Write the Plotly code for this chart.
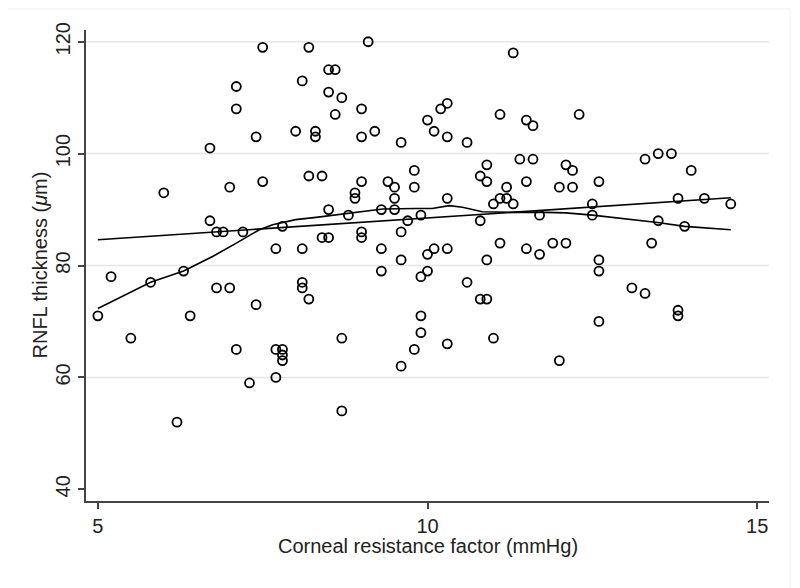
import plotly.graph_objects as go

# Scatter data: corneal resistance factor (mmHg) vs RNFL thickness (um)
crf = [7.5, 8.2, 7.1, 8.1, 7.1, 7.4, 8.0, 8.3, 8.3, 6.7, 8.2, 6.0, 7.0, 7.5, 6.7, 6.8, 6.9, 7.2, 7.8, 7.7, 8.1,
       5.2, 5.8, 6.3, 5.0, 5.5, 6.4, 6.8, 7.0, 7.4, 8.1, 8.1, 8.2, 7.1, 7.7, 7.8, 7.8, 7.8, 7.7, 7.3, 6.2,
       9.1, 11.3, 8.5, 8.6, 8.5, 8.7, 8.6, 9.0, 9.2, 9.0, 9.6, 10.0, 10.2, 10.3, 10.1, 10.3, 10.6, 11.1, 11.5, 11.6,
       11.4, 11.6, 10.9, 10.8, 10.9, 11.2, 11.5, 8.4, 9.0, 8.9, 8.9, 9.4, 9.5, 9.5, 9.8, 9.8, 10.3,
       8.5, 8.8, 9.3, 9.5, 9.7, 9.9, 10.8, 11.0, 11.1, 11.2, 11.3, 11.7,
       8.4, 8.5, 9.0, 9.0, 9.6, 9.3, 9.6, 10.0, 10.1, 10.3, 10.9, 11.1, 11.5, 11.7,
       9.3, 9.9, 10.0, 10.6, 10.8, 10.9, 9.9, 9.9, 8.7, 10.3, 11.0, 9.8, 9.6, 8.7,
       12.3, 12.1, 12.2, 12.0, 12.2, 12.6, 12.5, 12.5, 13.3, 13.5, 13.7, 14.0, 13.8, 14.2, 14.6, 13.5, 13.9,
       11.9, 12.1, 13.4, 12.6, 12.6, 13.1, 13.3, 13.8, 13.8, 12.6, 12.0]
rnfl = [119, 119, 112, 113, 108, 103, 104, 104, 103, 101, 96, 93, 94, 95, 88, 86, 86, 86, 87, 83, 83,
        78, 77, 79, 71, 67, 71, 76, 76, 73, 77, 76, 74, 65, 65, 65, 64, 63, 60, 59, 52,
        120, 118, 115, 115, 111, 110, 107, 108, 104, 103, 102, 106, 108, 109, 104, 103, 102, 107, 106, 105,
        99, 99, 98, 96, 95, 94, 95, 96, 95, 93, 92, 95, 94, 92, 97, 94, 92,
        90, 89, 90, 90, 88, 89, 88, 91, 92, 92, 91, 89,
        85, 85, 86, 85, 86, 83, 81, 82, 83, 83, 81, 84, 83, 82,
        79, 78, 79, 77, 74, 74, 71, 68, 67, 66, 67, 65, 62, 54,
        107, 98, 97, 94, 94, 95, 91, 89, 99, 100, 100, 97, 92, 92, 91, 88, 87,
        84, 84, 84, 81, 79, 76, 75, 72, 71, 70, 63]

# Linear fit line (endpoints)
lin_x = [5.0, 14.6]
lin_y = [84.6, 92.1]

# Lowess curve
low_x = [5.0, 5.8, 6.3, 6.74, 7.1, 7.45, 7.65, 8.0, 8.31, 8.81, 9.32, 9.82, 10.07, 10.33, 10.53, 10.83,
         11.08, 11.33, 11.79, 12.1, 12.5, 12.8, 13.1, 13.49, 13.9, 14.2, 14.6]
low_y = [72.3, 77.0, 79.0, 81.6, 84.0, 86.4, 87.3, 88.2, 88.6, 89.4, 90.1, 90.2, 90.2, 90.7, 90.4, 89.6,
         89.5, 89.5, 89.5, 89.4, 89.0, 88.6, 88.3, 87.7, 87.0, 86.7, 86.4]

x_ticks = [5, 10, 15]
y_ticks = [40, 60, 80, 100, 120]
x_title = "Corneal resistance factor (mmHg)"
y_title = "RNFL thickness (<i>μ</i>m)"

fig = go.Figure()
fig.add_trace(go.Scatter(
    x=crf, y=rnfl, mode="markers",
    marker=dict(symbol="circle-open", size=9, color="black", line=dict(width=1.8, color="black")),
    showlegend=False, hoverinfo="x+y"))
fig.add_trace(go.Scatter(x=lin_x, y=lin_y, mode="lines",
                         line=dict(color="black", width=1.6), showlegend=False))
fig.add_trace(go.Scatter(x=low_x, y=low_y, mode="lines",
                         line=dict(color="black", width=1.6), showlegend=False))

font_family = "Liberation Sans, Arial, Helvetica, sans-serif"
fig.update_layout(
    width=800, height=588,
    margin=dict(l=78, r=39, t=22, b=95),
    paper_bgcolor="white", plot_bgcolor="white",
    font=dict(family=font_family, size=20, color="#222222"),
    xaxis=dict(
        range=[4.82, 15.18], tickvals=x_ticks, ticktext=[str(v) for v in x_ticks],
        showgrid=False, zeroline=False, automargin=False,
        showline=True, linecolor="#444444", linewidth=1.5,
        ticks="outside", ticklen=6, tickwidth=1.5, tickcolor="#444444",
        tickfont=dict(size=20),
    ),
    yaxis=dict(
        range=[37.9, 122.1], tickvals=y_ticks, ticktext=[str(v) for v in y_ticks],
        tickangle=-90,
        showgrid=False, zeroline=False, automargin=False,
        showline=True, linecolor="#444444", linewidth=1.5,
        ticks="outside", ticklen=6, tickwidth=1.5, tickcolor="#444444",
        tickfont=dict(size=20),
    ),
    annotations=[
        dict(text=x_title, xref="paper", yref="paper", x=0.5, y=0, xanchor="center", yanchor="middle",
             yshift=-45, showarrow=False, font=dict(size=20, color="#222222")),
        dict(text=y_title, xref="paper", yref="paper", x=0, y=0.5, xanchor="center", yanchor="middle",
             xshift=-47, textangle=-90, showarrow=False, font=dict(size=20, color="#222222")),
    ],
)

# Light horizontal grid lines at 60, 80, 100, 120
for gv in y_ticks[1:]:
    fig.add_shape(type="line", xref="paper", yref="y", x0=0, x1=1, y0=gv, y1=gv,
                  line=dict(color="#e6e6e6", width=1.5), layer="below")

# Faint outer graph-region border
fig.add_shape(type="line", xref="paper", yref="paper", x0=-0.115, x1=1.0307, y0=1.0446, y1=1.0446,
              line=dict(color="#f0f0f0", width=1), layer="below")
fig.add_shape(type="line", xref="paper", yref="paper", x0=1.0307, x1=1.0307, y0=-0.19, y1=1.0446,
              line=dict(color="#f0f0f0", width=1), layer="below")

fig.write_html("out.html")
